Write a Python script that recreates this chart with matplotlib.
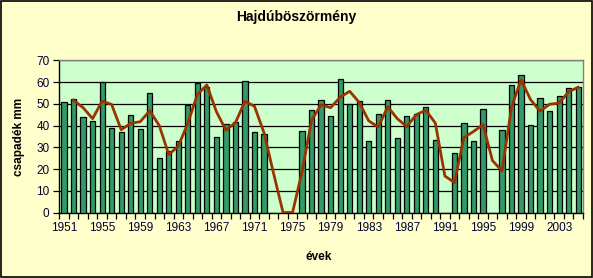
import numpy as np
import matplotlib
matplotlib.use("Agg")
import matplotlib.pyplot as plt

plt.rcParams['font.family'] = ['Liberation Sans', 'DejaVu Sans']

years = list(range(1951, 2006))
# annual precipitation (mm); None = missing year
values = [51.0, 52.4, 44.1, 42.3, 60.3, 39.1, 37.1, 45.0, 38.6, 55.1,
          24.9, 28.4, 32.7, 49.3, 59.4, 58.0, 34.9, 40.9, 41.8, 60.6,
          37.2, 36.3, None, None, None, 37.7, 47.3, 51.9, 44.6, 61.5,
          50.1, 51.3, 33.1, 45.5, 51.9, 34.5, 44.6, 45.5, 48.7, 33.6,
          None, 27.6, 41.4, 33.1, 47.8, None, 38.2, 58.8, 63.4, 40.5,
          52.8, 46.9, 53.8, 57.4, 57.9]
tick_labels = [str(y) for y in range(1951, 2006, 4)]

vals = np.array([np.nan if v is None else v for v in values], dtype=float)
filled = np.nan_to_num(vals, nan=0.0)
# 2-period moving average trendline (blanks count as zero)
ma = (filled[1:] + filled[:-1]) / 2.0
idx = np.arange(len(years))

fig = plt.figure(figsize=(5.93, 2.78), dpi=100, facecolor='#FFFFCC')
ax = fig.add_axes([0.1, 0.2356, 0.883, 0.547])
ax.set_facecolor('#CCFFCC')

ax.bar(idx, vals, width=0.55, color='#339966', edgecolor='black', linewidth=0.9, zorder=3)
ax.plot(idx[1:], ma, color='#993300', linewidth=2.0, zorder=4, solid_joinstyle='round')

ax.set_xlim(-0.5, len(years) - 0.5)
ax.set_ylim(0, 70)
ax.set_yticks(range(0, 71, 10))
ax.yaxis.grid(True, color='black', linewidth=0.9, zorder=1)
ax.set_axisbelow(True)

ax.set_xticks(np.arange(-0.5, len(years), 1.0), minor=False)
ax.set_xticklabels([])
ax.set_xticks(np.arange(0, len(years), 4), minor=True)
ax.set_xticklabels(tick_labels, minor=True)
ax.tick_params(axis='x', which='major', length=4, width=0.9, color='black', direction='out')
ax.tick_params(axis='x', which='minor', length=0, pad=7, labelsize=8.5, labelcolor='#000033')
ax.tick_params(axis='y', length=4, width=0.9, labelsize=8.5, labelcolor='#000033', pad=3)

for s in ['top', 'right']:
    ax.spines[s].set_color('#808080')
    ax.spines[s].set_linewidth(1.0)
for s in ['left', 'bottom']:
    ax.spines[s].set_color('black')
    ax.spines[s].set_linewidth(1.0)

fig.text(0.5, 0.94, 'Hajdúböszörmény', ha='center', va='center', fontsize=10, fontweight='bold')
ax.set_ylabel('csapadék mm', fontsize=8.5, fontweight='bold', labelpad=8)
fig.text(0.538, 0.075, 'évek', ha='center', va='center', fontsize=8.5, fontweight='bold')

# outer frame
fig.patches.append(plt.Rectangle((0.001, 0.002), 0.997, 0.996, transform=fig.transFigure,
                                 fill=False, edgecolor='black', linewidth=1.2))

fig.savefig('out.png', dpi=100, facecolor=fig.get_facecolor())
